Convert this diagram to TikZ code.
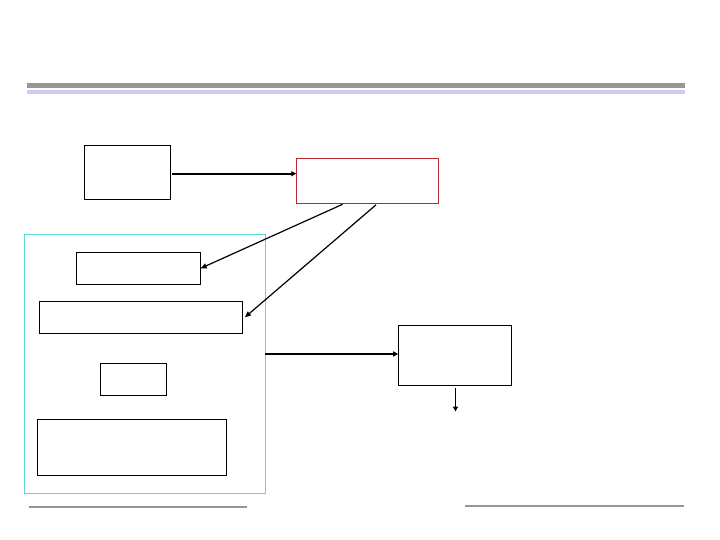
\documentclass[tikz,border=0pt]{standalone}
\usetikzlibrary{arrows.meta}
\definecolor{bargray}{RGB}{150,150,150}
\definecolor{barlav}{RGB}{204,204,240}
\definecolor{framecyan}{RGB}{90,215,210}
\definecolor{framered}{RGB}{190,40,50}
\tikzset{
  box/.style={draw=black,line width=0.9pt,inner sep=0pt,outer sep=0pt,fill=white},
  redbox/.style={box,draw=framered},
  group/.style={draw=framecyan,line width=1.3pt,inner sep=0pt,outer sep=0pt},
  thickarrow/.style={line width=1.8pt,-{Triangle[length=5pt,width=5pt]}},
  thinarrow/.style={line width=1.2pt,-{Triangle[length=6pt,width=5pt]}},
  rule/.style={draw=none,inner sep=0pt,outer sep=0pt}
}
\begin{document}
\begin{tikzpicture}[x=1pt,y=-1pt]
\useasboundingbox (0,0) rectangle (720,540);
% header bars
\node[rule,fill=bargray,minimum width=658pt,minimum height=5.5pt,anchor=north west] (bar1) at (27,83) {};
\node[rule,fill=barlav,minimum width=658pt,minimum height=4pt,anchor=north west] (bar2) at (27,90) {};
% footer lines
\node[rule,fill=bargray,minimum width=218pt,minimum height=2.2pt,anchor=west] (foot1) at (29,507) {};
\node[rule,fill=bargray,minimum width=219pt,minimum height=2.2pt,anchor=west] (foot2) at (465,505.7) {};
% group frame
\node[group,minimum width=241pt,minimum height=259pt,anchor=north west] (G) at (24.3,234.3) {};
% boxes
\node[box,minimum width=86pt,minimum height=54pt,anchor=north west] (A) at (84.3,145.3) {};
\node[redbox,minimum width=142.5pt,minimum height=45pt,anchor=north west] (R) at (296.3,158.3) {};
\node[box,minimum width=124.4pt,minimum height=32pt,anchor=north west] (B) at (76.3,252.3) {};
\node[box,minimum width=203pt,minimum height=32pt,anchor=north west] (C) at (39.4,301.3) {};
\node[box,minimum width=65.6pt,minimum height=32pt,anchor=north west] (E) at (100.9,363.3) {};
\node[box,minimum width=188.5pt,minimum height=56pt,anchor=north west] (F) at (37.6,419.3) {};
\node[box,minimum width=113pt,minimum height=60pt,anchor=north west] (D) at (398.2,325.3) {};
\coordinate (Dout) at (455.5,411.5);
% connectors
\draw[thickarrow] ([xshift=2pt]A.east |- 0,173.7) -- (A.east |- 0,173.7 -| R.west);
\draw[thinarrow] ([xshift=-25pt,yshift=-1pt]R.south) -- (B.east);
\draw[thinarrow] ([xshift=8.5pt,yshift=-1.5pt]R.south) -- ([xshift=2.5pt]C.east);
\draw[thickarrow] ([yshift=1.3pt]G.east |- D.west) -- ([yshift=1.3pt]D.west);
\draw[thickarrow,line width=1.5pt] ([xshift=0.8pt,yshift=-3pt]D.south) -- (Dout);
\end{tikzpicture}
\end{document}
